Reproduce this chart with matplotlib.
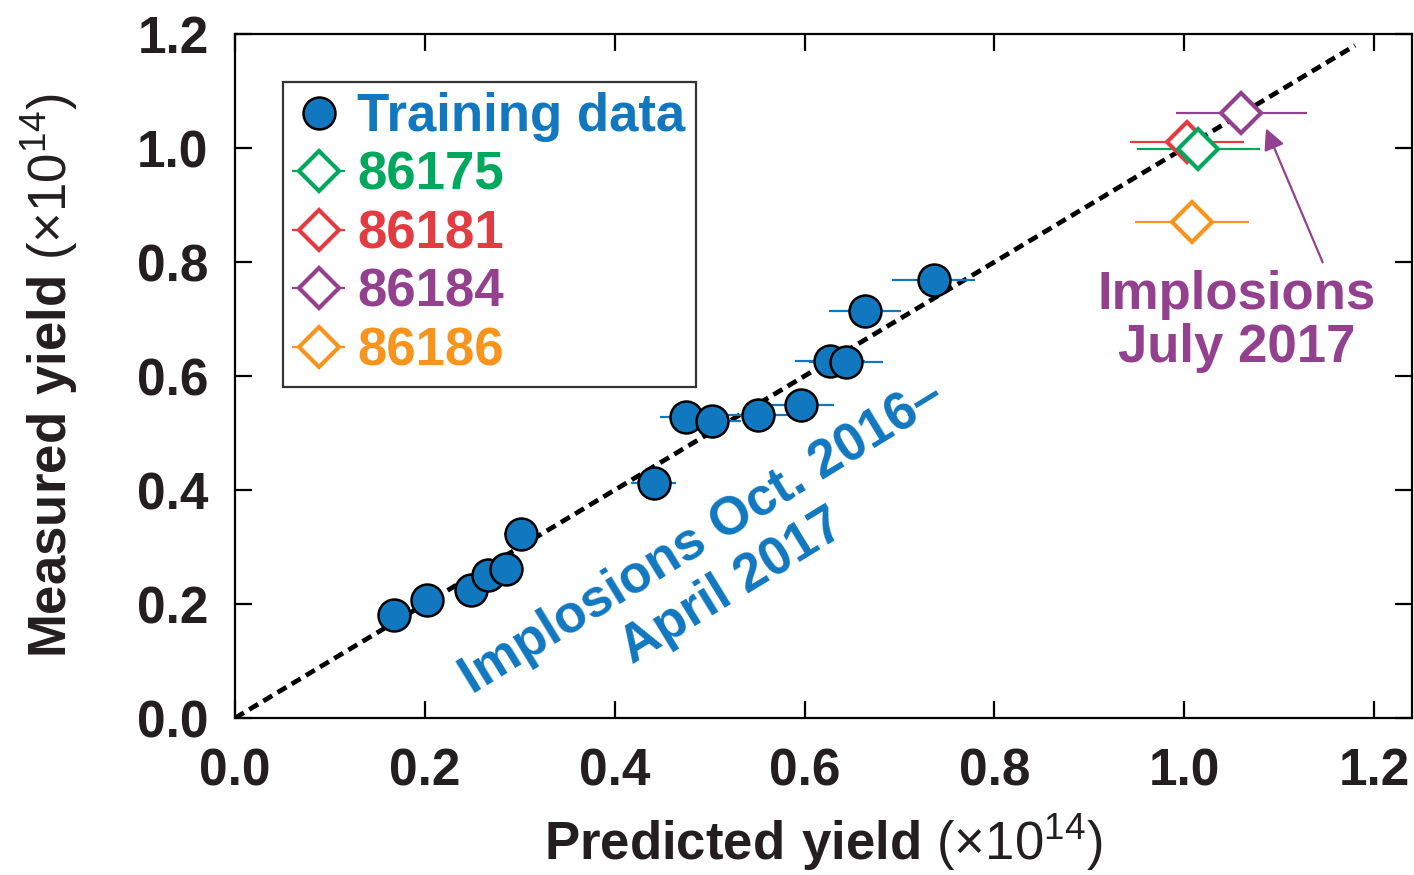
import matplotlib
matplotlib.use("Agg")
import matplotlib.pyplot as plt
from matplotlib.container import ErrorbarContainer
from matplotlib.legend_handler import HandlerErrorbar
from matplotlib.lines import Line2D

plt.rcParams["font.family"] = ["Liberation Sans", "DejaVu Sans"]
plt.rcParams["mathtext.fontset"] = "custom"
plt.rcParams["mathtext.rm"] = "Liberation Sans"
plt.rcParams["mathtext.bf"] = "Liberation Sans:bold"

BLUE = "#1177bf"
GREEN = "#00a85e"
RED = "#e23b41"
PURPLE = "#93408f"
ORANGE = "#f7941e"

# training shots (Oct. 2016 - April 2017), units of 1e14
train_pred = [0.168, 0.202, 0.249, 0.267, 0.286, 0.301, 0.441, 0.475, 0.503,
              0.551, 0.596, 0.627, 0.644, 0.664, 0.736]
train_meas = [0.181, 0.207, 0.225, 0.251, 0.261, 0.323, 0.412, 0.528, 0.521,
              0.532, 0.549, 0.626, 0.625, 0.714, 0.768]
train_err = [0.010, 0.012, 0.015, 0.016, 0.017, 0.018, 0.024, 0.027, 0.030,
             0.033, 0.035, 0.037, 0.039, 0.038, 0.044]

# July 2017 shots
shot_ids = ["86175", "86181", "86184", "86186"]
shot_pred = [1.015, 1.003, 1.060, 1.008]
shot_meas = [0.998, 1.011, 1.061, 0.870]
shot_err = [0.065, 0.060, 0.069, 0.060]
shot_colors = [GREEN, RED, PURPLE, ORANGE]
draw_order = [1, 0, 3, 2]

fig = plt.figure(figsize=(14.14, 8.75), dpi=100)
ax = fig.add_axes([0.1662, 0.1794, 0.8324, 0.7817])

ax.plot([0, 1.18], [0, 1.18], color="black", lw=3.4, dashes=(2.2, 1.3), zorder=2)

ax.errorbar(train_pred, train_meas, xerr=train_err, fmt="o", ms=23,
            mfc=BLUE, mec="black", mew=1.8, ecolor=BLUE, elinewidth=1.6,
            capsize=0, zorder=3)

handles = [Line2D([], [], ls="none", marker="o", ms=23, mfc=BLUE, mec="black", mew=1.8)]
shot_handles = {}
for i in draw_order:
    h = ax.errorbar(shot_pred[i], shot_meas[i], xerr=shot_err[i], fmt="D", ms=20,
                    mfc="white", mec=shot_colors[i], mew=3, ecolor=shot_colors[i],
                    elinewidth=1.6, capsize=0, zorder=4)
    shot_handles[i] = h
handles += [shot_handles[i] for i in range(len(shot_ids))]
labels = ["Training data"] + shot_ids

leg = ax.legend(handles, labels, loc="upper left", bbox_to_anchor=(0.0408, 0.930),
                borderaxespad=0, frameon=True, fancybox=False, edgecolor="black",
                prop={"size": 38, "weight": "bold"}, labelcolor=[BLUE] + shot_colors,
                handlelength=0.95, handletextpad=0.25, labelspacing=0.16,
                borderpad=0.2, markerscale=1.0,
                handler_map={ErrorbarContainer: HandlerErrorbar(xerr_size=0.5)})
leg.get_frame().set_linewidth(1.6)

ax.annotate("", xy=(1.085, 1.039), xytext=(1.147, 0.795),
            arrowprops=dict(arrowstyle="-|>", color=PURPLE, lw=1.6, mutation_scale=32))
ax.text(1.055, 0.695, "Implosions\nJuly 2017", color=PURPLE, fontsize=38,
        fontweight="bold", ha="center", va="center", linespacing=1.08)
ax.text(0.508, 0.274, "Implosions Oct. 2016\u2013\nApril 2017", color=BLUE,
        fontsize=38, fontweight="bold", ha="center", va="center",
        rotation=31.5, rotation_mode="anchor", linespacing=1.2)

ax.set_xlim(0, 1.24)
ax.set_ylim(0, 1.2)
ticks = [0.0, 0.2, 0.4, 0.6, 0.8, 1.0, 1.2]
ax.set_xticks(ticks)
ax.set_yticks(ticks)
ax.set_xticklabels([f"{t:.1f}" for t in ticks])
ax.set_yticklabels([f"{t:.1f}" for t in ticks])
ax.tick_params(direction="in", top=True, right=True, length=12, width=1.6,
               labelsize=37)
ax.tick_params(axis="x", pad=21)
ax.tick_params(axis="y", pad=19)
for lab in ax.get_xticklabels() + ax.get_yticklabels():
    lab.set_fontweight("bold")
    lab.set_color("#231f20")
for sp in ax.spines.values():
    sp.set_linewidth(1.6)

ax.set_xlabel(r"$\mathbf{Predicted\ yield}$ (×$10^{14}$)", fontsize=38, color="#231f20")
ax.set_ylabel(r"$\mathbf{Measured\ yield}$ (×$10^{14}$)", fontsize=38, color="#231f20")
ax.xaxis.set_label_coords(0.5, -0.137)
ax.yaxis.set_label_coords(-0.132, 0.5)

fig.savefig("out.png", dpi=100)
